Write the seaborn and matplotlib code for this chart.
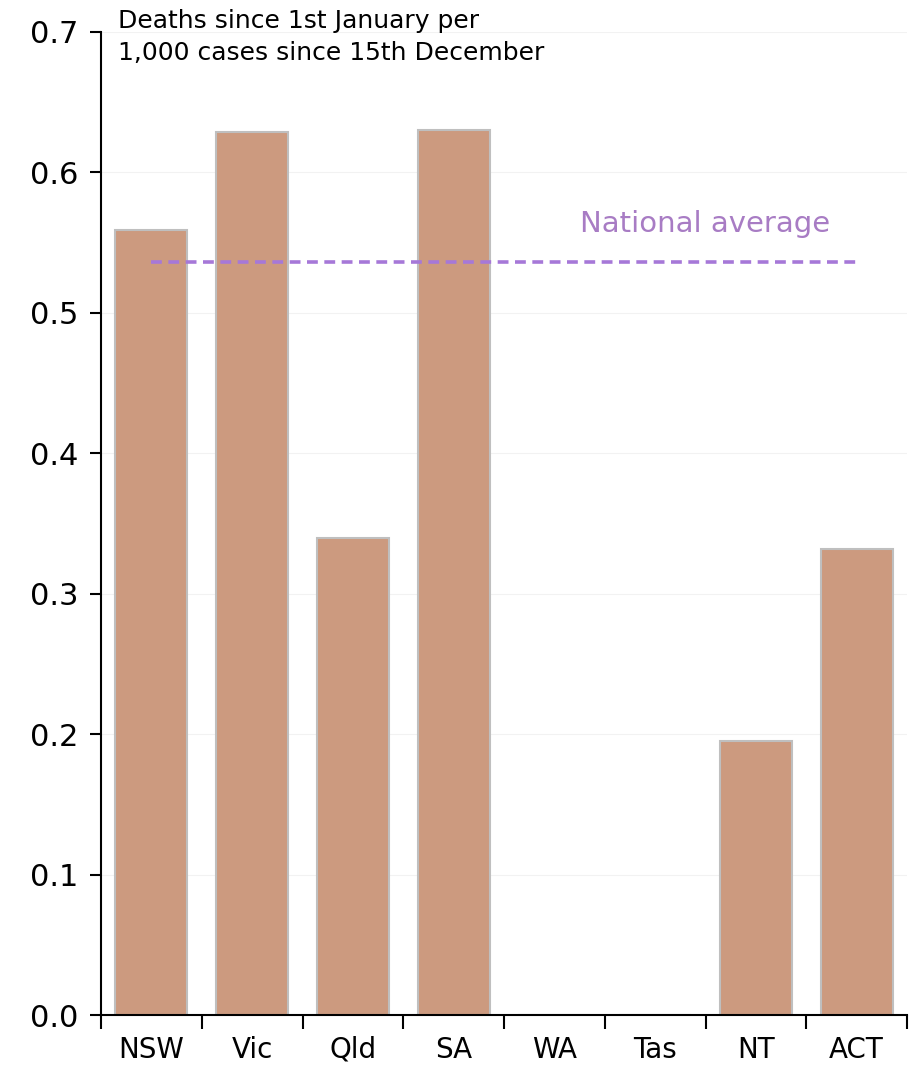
import matplotlib
matplotlib.use("Agg")
import matplotlib.pyplot as plt
import seaborn as sns
import pandas as pd
import numpy as np

states = ["NSW", "Vic", "Qld", "SA", "WA", "Tas", "NT", "ACT"]
deaths_per_1000 = [0.559, 0.629, 0.340, 0.630, 0.0, 0.0, 0.195, 0.332]
national_average = 0.536
y_ticks = [0.0, 0.1, 0.2, 0.3, 0.4, 0.5, 0.6, 0.7]

sns.set_theme(style="white")
plt.rcParams["font.family"] = ["DejaVu Sans"]
plt.rcParams["text.color"] = "black"
plt.rcParams["xtick.color"] = "black"
plt.rcParams["ytick.color"] = "black"

df = pd.DataFrame({"state": states, "value": deaths_per_1000})

fig = plt.figure(figsize=(9.21, 10.65), dpi=100)
ax = fig.add_axes([0.1097, 0.0469, 0.8751, 0.9231])

sns.barplot(data=df, x="state", y="value", order=states, color="#CC9A7F",
            saturation=1, width=0.715, edgecolor="#BFBFBF", linewidth=1.5, ax=ax)

# National average reference line across the states
ax.plot([0, len(states) - 1], [national_average, national_average],
        color="#A678D8", linestyle=(0, (3, 1.8)), linewidth=2.6, zorder=3)
ax.text(5.5, national_average + 0.027, "National average", color="#A87CC4",
        fontsize=21, ha="center", va="center")

ax.set_xlim(-0.5, len(states) - 0.5)
ax.set_ylim(0, 0.7)
ax.set_yticks(y_ticks)
ax.set_yticklabels([f"{v:.1f}" for v in y_ticks], fontsize=22)
ax.yaxis.grid(True, color="#F2F2F2", linewidth=0.8)
ax.set_axisbelow(True)

# Labels at category centres, tick marks at category boundaries
ax.set_xticks(range(len(states)))
ax.set_xticklabels(states, fontsize=20)
ax.set_xticks(np.arange(-0.5, len(states), 1.0), minor=True)
ax.tick_params(axis="x", which="major", length=0, pad=15)
ax.tick_params(axis="x", which="minor", length=10, width=1.5, color="black", direction="out", bottom=True)
ax.tick_params(axis="y", which="major", length=8, width=1.5, color="black", direction="out", left=True, pad=8)

ax.set_xlabel("")
ax.set_ylabel("")
for side in ["top", "right"]:
    ax.spines[side].set_visible(False)
for side in ["left", "bottom"]:
    ax.spines[side].set_color("black")
    ax.spines[side].set_linewidth(1.5)

fig.text(118 / 921, 1 - 37 / 1065, "Deaths since 1st January per\n1,000 cases since 15th December",
         fontsize=18, ha="left", va="center", linespacing=1.45)

fig.savefig("out.png", dpi=100, facecolor="white")
